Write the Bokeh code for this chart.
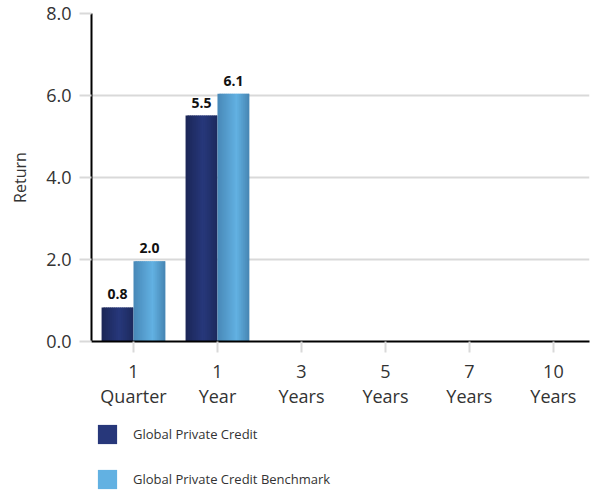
from bokeh.plotting import figure
from bokeh.layouts import column
from bokeh.models import ColumnDataSource, FixedTicker, Legend, LegendItem, Range1d, NumeralTickFormatter
from bokeh.embed import file_html
from bokeh.resources import INLINE
from bokeh.core.properties import value

# ---- data ----
categories = ["1\nQuarter", "1\nYear", "3\nYears", "5\nYears", "7\nYears", "10\nYears"]
series_names = ["Global Private Credit", "Global Private Credit Benchmark"]
private_credit = [0.83, 5.51, None, None, None, None]
benchmark = [1.96, 6.04, None, None, None, None]
private_credit_labels = ["0.8", "5.5", "", "", "", ""]
benchmark_labels = ["2.0", "6.1", "", "", "", ""]
y_ticks = [0, 2, 4, 6, 8]

# ---- styling ----
FONT = "Open Sans"
navy_stops = [(0.0, "#1b2656"), (0.55, "#27387b"), (1.0, "#1d2a5d")]
blue_stops = [(0.0, "#4888b7"), (0.6, "#62b1e2"), (1.0, "#4684b2")]
BAR_W = 0.38
N_STRIPS = 16


def hex2rgb(h):
    h = h.lstrip("#")
    return tuple(int(h[i:i + 2], 16) for i in (0, 2, 4))


def interp(stops, t):
    for (t0, c0), (t1, c1) in zip(stops[:-1], stops[1:]):
        if t0 <= t <= t1:
            f = (t - t0) / (t1 - t0)
            a, b = hex2rgb(c0), hex2rgb(c1)
            return "#%02x%02x%02x" % tuple(int(round(a[k] + (b[k] - a[k]) * f)) for k in range(3))
    return stops[-1][1]


def strip_source(values, offset, stops):
    # each bar is painted as overlapping vertical strips to imitate the gradient shading
    xs, tops, ws, cols = [], [], [], []
    sw = BAR_W / N_STRIPS
    for i, v in enumerate(values):
        if v is None:
            continue
        left_edge = i + offset - BAR_W / 2
        right_edge = left_edge + BAR_W
        for j in range(N_STRIPS):
            t = (j + 0.5) / N_STRIPS
            a = left_edge + j * sw
            b = min(left_edge + (j + 1.7) * sw, right_edge)
            xs.append((a + b) / 2)
            ws.append(b - a)
            tops.append(v)
            cols.append(interp(stops, t))
    return ColumnDataSource(dict(x=xs, top=tops, w=ws, color=cols))


p = figure(frame_width=498, frame_height=328, output_backend="svg", toolbar_location=None,
           x_range=Range1d(-0.5, 5.43), y_range=Range1d(0, 8),
           min_border_left=91, min_border_right=1, min_border_top=13, min_border_bottom=72)
p.outline_line_color = None
p.background_fill_color = "white"
p.xgrid.grid_line_color = None
p.ygrid.grid_line_color = "#d9d9d9"
p.ygrid.grid_line_width = 2

src1 = strip_source(private_credit, -BAR_W / 2, navy_stops)
src2 = strip_source(benchmark, BAR_W / 2, blue_stops)
bar_kw = dict(x="x", top="top", bottom=0, width="w", fill_color="color", line_color=None)
r1 = p.vbar(source=src1, **bar_kw)
r2 = p.vbar(source=src2, **bar_kw)

# value labels
lx, ly, lt = [], [], []
for vals, labs, off in ((private_credit, private_credit_labels, -BAR_W / 2),
                        (benchmark, benchmark_labels, BAR_W / 2)):
    for i, (v, t) in enumerate(zip(vals, labs)):
        if v is None:
            continue
        lx.append(i + off)
        ly.append(v)
        lt.append(t)
p.text(x=lx, y=ly, text=lt, y_offset=-8, text_align="center", text_baseline="bottom",
       text_font=value(FONT), text_font_style="bold", text_font_size="14px", text_color="#111111")

# axes
xa = p.xaxis[0]
xa.ticker = FixedTicker(ticks=list(range(len(categories))))
xa.major_label_overrides = {i: c for i, c in enumerate(categories)}
xa.axis_line_color = "black"
xa.axis_line_width = 2
xa.major_tick_line_color = "#d9d9d9"
xa.major_tick_line_width = 2
xa.major_tick_out = 11
xa.major_tick_in = 0
xa.minor_tick_line_color = None
xa.major_label_text_font = FONT
xa.major_label_text_font_size = "18px"
xa.major_label_text_color = "#333333"
xa.major_label_text_line_height = 1.06
xa.major_label_standoff = 6

ya = p.yaxis[0]
ya.ticker = FixedTicker(ticks=y_ticks)
ya.formatter = NumeralTickFormatter(format="0.0")
ya.axis_line_color = "black"
ya.axis_line_width = 2
ya.major_tick_line_color = "#d9d9d9"
ya.major_tick_line_width = 2
ya.major_tick_out = 12
ya.major_tick_in = 0
ya.minor_tick_line_color = None
ya.major_label_text_font = FONT
ya.major_label_text_font_size = "18px"
ya.major_label_text_color = "#333333"
ya.major_label_standoff = 8
ya.axis_label = "Return"
ya.axis_label_text_font = FONT
ya.axis_label_text_font_size = "16px"
ya.axis_label_text_font_style = "normal"
ya.axis_label_text_color = "#333333"
ya.axis_label_standoff = 12

# legend strip below the chart (its renderers lie outside its ranges, so only the legend shows)
p2 = figure(width=590, height=80, output_backend="svg", toolbar_location=None,
            x_range=Range1d(1000, 1001), y_range=Range1d(1000, 1001),
            x_axis_type=None, y_axis_type=None,
            min_border_left=91, min_border_top=5, min_border_right=1, min_border_bottom=0)
p2.outline_line_color = None
p2.background_fill_color = "white"
p2.border_fill_color = "white"
k1 = p2.vbar(source=src1, **bar_kw)
k2 = p2.vbar(source=src2, **bar_kw)
legend = Legend(items=[LegendItem(label=series_names[0], renderers=[k1], index=8),
                       LegendItem(label=series_names[1], renderers=[k2], index=9)],
                location="top_left", orientation="vertical",
                glyph_width=24, glyph_height=24, label_height=24,
                label_text_font=FONT, label_text_font_size="13px", label_text_color="#333333",
                label_standoff=14, spacing=21, padding=0, margin=4,
                border_line_color=None, background_fill_alpha=0)
p2.add_layout(legend, "center")

layout = column(p, p2, spacing=0)
open("out.html", "w").write(file_html(layout, INLINE))
